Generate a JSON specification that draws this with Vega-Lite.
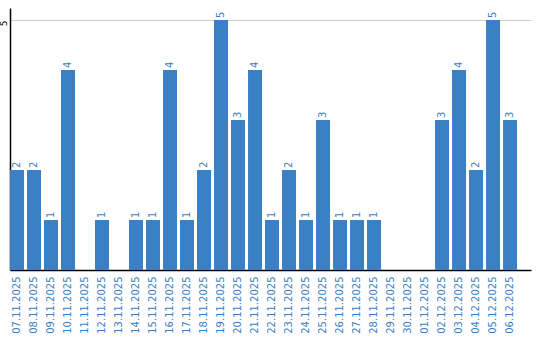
{
  "$schema": "https://vega.github.io/schema/vega-lite/v6.json",
  "autosize": "none",
  "padding": {"left": 10, "top": 8, "right": 9, "bottom": 70},
  "width": 521,
  "height": 262,
  "background": "white",
  "config": {"view": {"stroke": null}, "font": "DejaVu Sans"},
  "data": {"values": [
    {"d": "07.11.2025", "v": 2},
    {"d": "08.11.2025", "v": 2},
    {"d": "09.11.2025", "v": 1},
    {"d": "10.11.2025", "v": 4},
    {"d": "11.11.2025", "v": 0},
    {"d": "12.11.2025", "v": 1},
    {"d": "13.11.2025", "v": 0},
    {"d": "14.11.2025", "v": 1},
    {"d": "15.11.2025", "v": 1},
    {"d": "16.11.2025", "v": 4},
    {"d": "17.11.2025", "v": 1},
    {"d": "18.11.2025", "v": 2},
    {"d": "19.11.2025", "v": 5},
    {"d": "20.11.2025", "v": 3},
    {"d": "21.11.2025", "v": 4},
    {"d": "22.11.2025", "v": 1},
    {"d": "23.11.2025", "v": 2},
    {"d": "24.11.2025", "v": 1},
    {"d": "25.11.2025", "v": 3},
    {"d": "26.11.2025", "v": 1},
    {"d": "27.11.2025", "v": 1},
    {"d": "28.11.2025", "v": 1},
    {"d": "29.11.2025", "v": 0},
    {"d": "30.11.2025", "v": 0},
    {"d": "01.12.2025", "v": 0},
    {"d": "02.12.2025", "v": 3},
    {"d": "03.12.2025", "v": 4},
    {"d": "04.12.2025", "v": 2},
    {"d": "05.12.2025", "v": 5},
    {"d": "06.12.2025", "v": 3}
  ]},
  "encoding": {
    "x": {"field": "d", "type": "ordinal", "sort": null,
      "scale": {"paddingInner": 0.176, "paddingOuter": 0.41, "align": 0},
      "axis": {"title": null, "labelAngle": -90, "labelColor": "#3b7fc4", "labelFontSize": 10,
        "ticks": false, "domainColor": "#000000", "domainWidth": 1.5, "labelPadding": 6}},
    "y": {"field": "v", "type": "quantitative",
      "scale": {"domain": [0, 5.24], "nice": false},
      "axis": {"title": null, "values": [5], "labelAngle": -90, "labelAlign": "right", "ticks": false, "labelFontSize": 9,
        "labelColor": "#000000", "domainColor": "#000000", "domainWidth": 1.5, "labelPadding": 2,
        "gridColor": "#cccccc", "gridWidth": 1}}
  },
  "layer": [
    {"mark": {"type": "bar", "color": "#3b7fc4"}},
    {"mark": {"type": "text", "angle": 270, "align": "left", "baseline": "middle", "dx": 2, "fontSize": 10, "color": "#3b7fc4"},
     "encoding": {"text": {"condition": {"test": "datum.v > 0", "field": "v", "type": "quantitative"}, "value": ""}}}
  ]
}
